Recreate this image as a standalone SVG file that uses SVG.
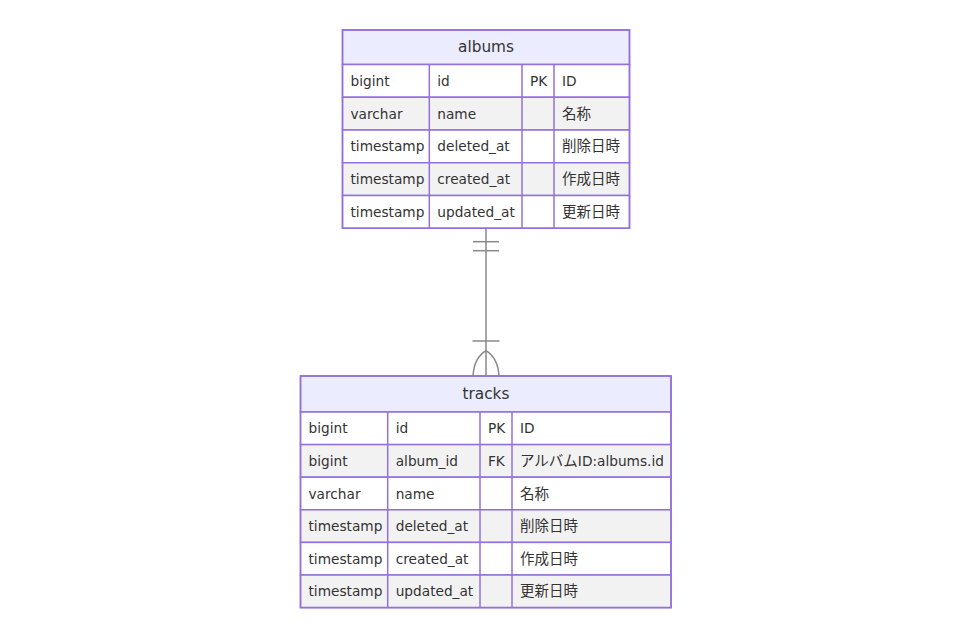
<svg xmlns="http://www.w3.org/2000/svg" width="972" height="638" viewBox="0 0 972 638">
<style>
.bg{fill:#ffffff}
.hdr{fill:#ECECFF;stroke:#9370DB;stroke-width:1.5}
.odd{fill:#ffffff;stroke:#9370DB;stroke-width:1.5}
.even{fill:#f2f2f2;stroke:#9370DB;stroke-width:1.5}
.div{stroke:#9370DB;stroke-width:1.5}
.frame{fill:none;stroke:#9370DB;stroke-width:1.5}
text{font-family:"DejaVu Sans","Noto Sans CJK JP",sans-serif;fill:#333333}
.t{font-size:13.7px}
.j{font-size:14.5px}
.h{font-size:15.3px;text-anchor:middle}
.rel{fill:none;stroke:#888888;stroke-width:1.5}
</style>
<rect class="bg" x="0" y="0" width="972" height="638"/>
<g id="connectors">
<line class="rel" x1="486" y1="228.5" x2="486" y2="376"/>
<line class="rel" x1="473" y1="241.7" x2="499" y2="241.7"/>
<line class="rel" x1="473" y1="250.7" x2="499" y2="250.7"/>
<line class="rel" x1="472.5" y1="341" x2="499.5" y2="341"/>
<path class="rel" d="M486,350.7 Q474,358 473,376"/>
<path class="rel" d="M486,350.7 Q498,358 499,376"/>
</g>
<g id="albums">
<rect class="hdr" x="342.5" y="30" width="287" height="34.5"/>
<text class="h" x="486" y="52.3">albums</text>
<rect class="odd" x="342.5" y="64.5" width="287" height="32.75"/>
<rect class="even" x="342.5" y="97.25" width="287" height="32.75"/>
<rect class="odd" x="342.5" y="130" width="287" height="32.75"/>
<rect class="even" x="342.5" y="162.75" width="287" height="32.75"/>
<rect class="odd" x="342.5" y="195.5" width="287" height="32.75"/>
<line class="div" x1="429.3" y1="64.5" x2="429.3" y2="228.25"/>
<line class="div" x1="522" y1="64.5" x2="522" y2="228.25"/>
<line class="div" x1="554" y1="64.5" x2="554" y2="228.25"/>
<rect class="frame" x="342.5" y="30" width="287" height="198.25"/>
<text class="t" x="350.5" y="86">bigint</text>
<text class="t" x="437.3" y="86">id</text>
<text class="t" x="530" y="86">PK</text>
<text class="t" x="562" y="86">ID</text>
<text class="t" x="350.5" y="118.7">varchar</text>
<text class="t" x="437.3" y="118.7">name</text>
<text class="j" x="562" y="118.7">名称</text>
<text class="t" x="350.5" y="151.4">timestamp</text>
<text class="t" x="437.3" y="151.4">deleted_at</text>
<text class="j" x="562" y="151.4">削除日時</text>
<text class="t" x="350.5" y="184.1">timestamp</text>
<text class="t" x="437.3" y="184.1">created_at</text>
<text class="j" x="562" y="184.1">作成日時</text>
<text class="t" x="350.5" y="216.9">timestamp</text>
<text class="t" x="437.3" y="216.9">updated_at</text>
<text class="j" x="562" y="216.9">更新日時</text>
</g>
<g id="tracks">
<rect class="hdr" x="300.5" y="376" width="370.5" height="36"/>
<text class="h" x="486" y="399">tracks</text>
<rect class="odd" x="300.5" y="412" width="370.5" height="32.6"/>
<rect class="even" x="300.5" y="444.6" width="370.5" height="32.6"/>
<rect class="odd" x="300.5" y="477.2" width="370.5" height="32.6"/>
<rect class="even" x="300.5" y="509.8" width="370.5" height="32.6"/>
<rect class="odd" x="300.5" y="542.4" width="370.5" height="32.6"/>
<rect class="even" x="300.5" y="575" width="370.5" height="32.6"/>
<line class="div" x1="387.7" y1="412" x2="387.7" y2="607.6"/>
<line class="div" x1="480" y1="412" x2="480" y2="607.6"/>
<line class="div" x1="512" y1="412" x2="512" y2="607.6"/>
<rect class="frame" x="300.5" y="376" width="370.5" height="231.6"/>
<text class="t" x="308.5" y="433.3">bigint</text>
<text class="t" x="395.7" y="433.3">id</text>
<text class="t" x="488" y="433.3">PK</text>
<text class="t" x="520" y="433.3">ID</text>
<text class="t" x="308.5" y="465.9">bigint</text>
<text class="t" x="395.7" y="465.9">album_id</text>
<text class="t" x="488" y="465.9">FK</text>
<text class="t" x="520" y="465.9"><tspan class="j">アルバム</tspan>ID:albums.id</text>
<text class="t" x="308.5" y="498.5">varchar</text>
<text class="t" x="395.7" y="498.5">name</text>
<text class="j" x="520" y="498.5">名称</text>
<text class="t" x="308.5" y="531.1">timestamp</text>
<text class="t" x="395.7" y="531.1">deleted_at</text>
<text class="j" x="520" y="531.1">削除日時</text>
<text class="t" x="308.5" y="563.7">timestamp</text>
<text class="t" x="395.7" y="563.7">created_at</text>
<text class="j" x="520" y="563.7">作成日時</text>
<text class="t" x="308.5" y="596.3">timestamp</text>
<text class="t" x="395.7" y="596.3">updated_at</text>
<text class="j" x="520" y="596.3">更新日時</text>
</g>
</svg>
